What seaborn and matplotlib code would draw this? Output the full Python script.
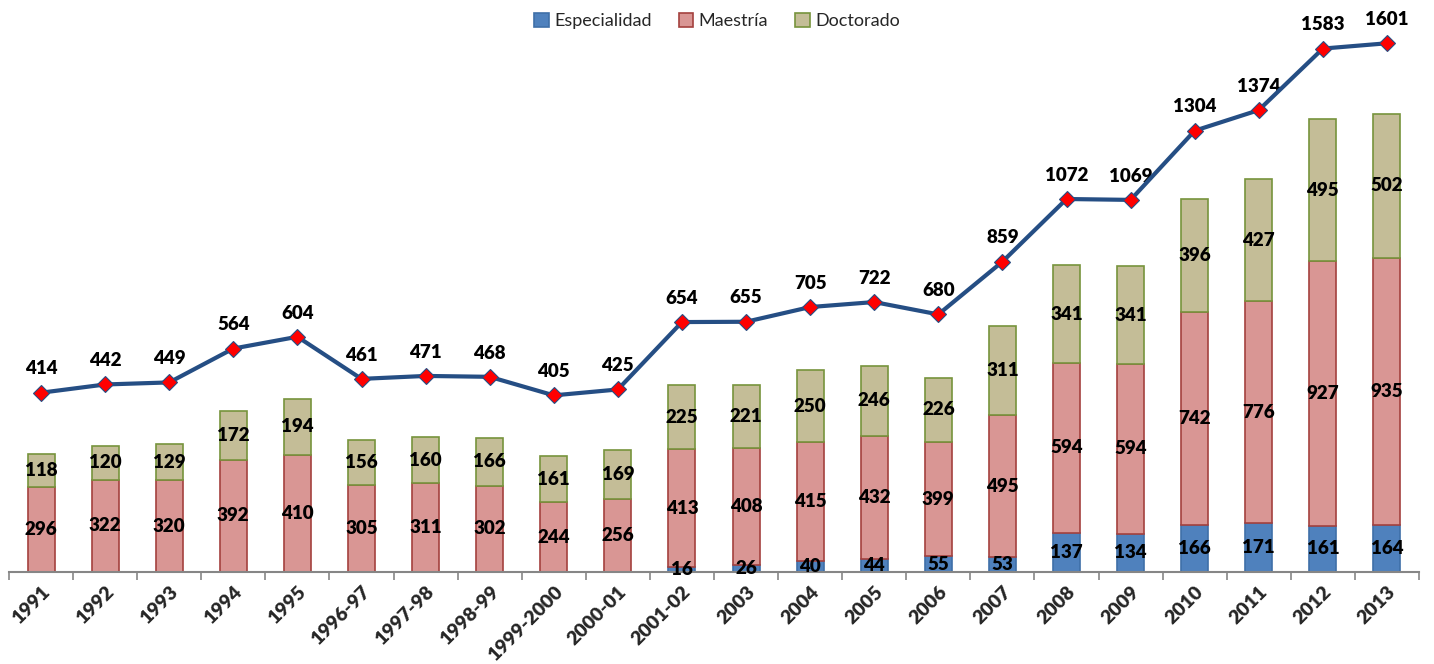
import matplotlib
matplotlib.use("Agg")
import matplotlib.pyplot as plt
import seaborn as sns
import pandas as pd
import numpy as np

# ------------------------------------------------------------------
# data
# ------------------------------------------------------------------
years = ['1991', '1992', '1993', '1994', '1995', '1996-97', '1997-98', '1998-99',
         '1999-2000', '2000-01', '2001-02', '2003', '2004', '2005', '2006', '2007',
         '2008', '2009', '2010', '2011', '2012', '2013']
especialidad = [0, 0, 0, 0, 0, 0, 0, 0, 0, 0, 16, 26, 40, 44, 55, 53, 137, 134, 166, 171, 161, 164]
maestria = [296, 322, 320, 392, 410, 305, 311, 302, 244, 256, 413, 408, 415, 432, 399, 495,
            594, 594, 742, 776, 927, 935]
doctorado = [118, 120, 129, 172, 194, 156, 160, 166, 161, 169, 225, 221, 250, 246, 226, 311,
             341, 341, 396, 427, 495, 502]
totales = [414, 442, 449, 564, 604, 461, 471, 468, 405, 425, 654, 655, 705, 722, 680, 859,
           1072, 1069, 1304, 1374, 1583, 1601]

df = pd.DataFrame({'anio': years, 'Especialidad': especialidad, 'Maestría': maestria,
                   'Doctorado': doctorado, 'Total': totales})
df['x'] = np.arange(len(df))

sns.set_theme(style='white')
plt.rcParams['font.family'] = ['Lato', 'DejaVu Sans']

fig = plt.figure(figsize=(14.34, 6.64), dpi=100)
ax = fig.add_axes([9 / 1434, 92 / 664, 1410 / 1434, 572 / 664])

series = [
    ('Especialidad', '#4F81BD', '#3F6FA8'),
    ('Maestría', '#D99694', '#A4413E'),
    ('Doctorado', '#C4BD97', '#77933C'),
]

bottom = np.zeros(len(df))
for name, fc, ec in series:
    vals = df[name].values
    ax.bar(df['x'], vals, bottom=bottom, width=0.42, color=fc, edgecolor=ec,
           linewidth=1.2, label=name, zorder=2)
    for xi, v, b in zip(df['x'], vals, bottom):
        if v > 0:
            ax.text(xi, b + v / 2, str(v), ha='center', va='center', fontsize=13.5,
                    fontweight='heavy', color='black', zorder=5, clip_on=False)
    bottom = bottom + vals

ax.set_xlim(-0.5, len(df) - 0.5)
ax.set_ylim(0, 2000)
ax.set_yticks([])
for side in ['top', 'right', 'left']:
    ax.spines[side].set_visible(False)
ax.spines['bottom'].set_color('#868686')
ax.spines['bottom'].set_linewidth(1.5)

ax.set_xticks(df['x'])
ax.set_xticklabels(df['anio'], rotation=45, ha='right', rotation_mode='anchor',
                   fontsize=14, fontweight='heavy')
ax.tick_params(axis='x', which='major', length=0, pad=8)
ax.set_xticks(np.arange(-0.5, len(df), 1), minor=True)
ax.tick_params(axis='x', which='minor', length=6, width=1.2, color='#868686', bottom=True)
ax.set_xlabel('')

# total line on a secondary axis
ax2 = ax.twinx()
sns.lineplot(data=df, x='x', y='Total', ax=ax2, color='#254E84', linewidth=3,
             marker='D', markersize=8, markerfacecolor='#FF0000',
             markeredgecolor='#254E84', markeredgewidth=0.8, zorder=4)
ax2.set_ylim(-195, 1748)
ax2.set_yticks([])
ax2.set_ylabel('')
ax2.set_xlim(-0.5, len(df) - 0.5)
for side in ['top', 'right', 'left', 'bottom']:
    ax2.spines[side].set_visible(False)
for xi, t in zip(df['x'], df['Total']):
    ax2.annotate(str(t), (xi, t), xytext=(0, 11), textcoords='offset points',
                 ha='center', va='bottom', fontsize=13.5, fontweight='heavy', color='black')

handles, labels = ax.get_legend_handles_labels()
fig.legend(handles, labels, loc='upper center', bbox_to_anchor=(0.5, 1.005), ncol=3,
           frameon=False, fontsize=13, handlelength=0.8, handleheight=0.8,
           handletextpad=0.3, columnspacing=1.5)

fig.savefig('out.png', dpi=100)
